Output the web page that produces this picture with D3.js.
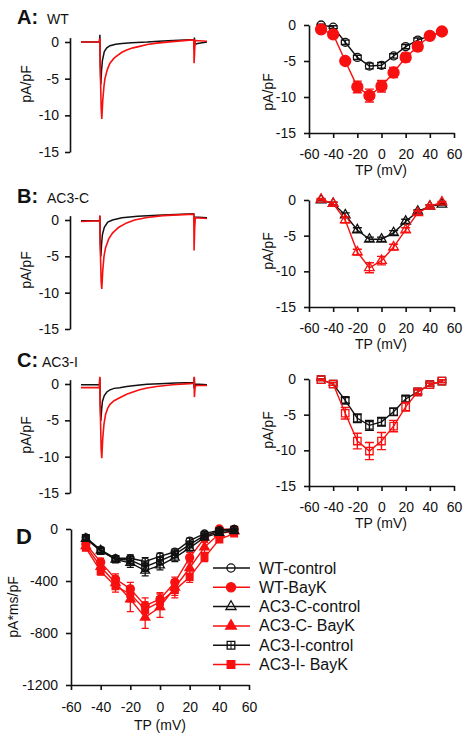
<!DOCTYPE html>
<html><head><meta charset="utf-8">
<script src="https://cdn.jsdelivr.net/npm/d3@7/dist/d3.min.js"></script>
<style>
body{margin:0;background:#fff;}
text{font-family:"Liberation Sans",Arial,sans-serif;fill:#111;}
</style></head><body>
<script>
// ---------------- DATA ----------------
const RED = "#f81010", BLK = "#111";
const voltages = [-50,-40,-30,-20,-10,0,10,20,30,40,50];
const yTicksIV = [0,-5,-10,-15];
const xTicksIV = [-60,-40,-20,0,20,40,60];
const yTicksD = [0,-400,-800,-1200];
const groups = ["WT","AC3-C","AC3-I"];
const panelLetters = ["A:","B:","C:"];

// current traces: [time ms (pulse 0..300), pA/pF]
const traceA_ctrl = [[-60,0],[-1,0],[0,1.0],[1,-3],[3,-5.8],[5,-4],[8,-2.5],[14,-1.3],[22,-0.8],[32,-0.5],[50,-0.3],[70,-0.2],[100,-0.1],[150,0],[200,0.15],[284,0.3],[298,0.3],[299,-1.0],[300,0.6],[302,-0.3],[310,-0.2],[340,0]];
const traceA_bayk = [[-60,0],[-2,0],[-1,0.4],[0,0.5],[1,-3],[4,-9],[6,-10.5],[9,-8],[13,-6],[16,-5],[24,-3.7],[32,-2.9],[45,-2.2],[54,-1.9],[70,-1.4],[85,-1.1],[105,-0.8],[126,-0.6],[150,-0.35],[180,-0.15],[230,0.05],[284,0.25],[298,0.3],[299,-2.9],[301,-1],[303,0.2],[340,0.1]];
const traceB_ctrl = [[-60,-0.1],[-1,-0.1],[0,0.6],[1,-3],[3,-5],[5,-3.5],[8,-2],[14,-1],[25,-0.3],[40,0],[70,0.3],[120,0.5],[200,0.7],[298,0.85],[299,-0.3],[301,0.4],[340,0.3]];
const traceB_bayk = [[-60,-0.2],[-1,-0.1],[0,0.6],[1,-3.5],[4,-8.5],[6,-9.5],[9,-7],[13,-5],[18,-3.8],[28,-2.6],[40,-1.8],[60,-1],[85,-0.4],[110,0],[150,0.35],[200,0.6],[298,0.8],[299,-4.2],[301,-1],[303,0.3],[340,0.2]];
const traceC_ctrl = [[-60,-0.1],[-1,-0.1],[0,0.8],[1,-2.5],[3,-5.1],[5,-3.8],[8,-2.4],[14,-1.6],[22,-1.1],[32,-0.8],[45,-0.6],[63,-0.5],[85,-0.35],[105,-0.25],[126,-0.15],[150,-0.05],[190,0.05],[240,0.15],[298,0.2],[299,-0.6],[300,0.9],[301,-0.4],[304,0],[340,-0.1]];
const traceC_bayk = [[-60,-0.5],[-2,-0.5],[-1,0.5],[0,1.0],[1,-3],[4,-9],[6,-10.2],[9,-7.5],[13,-5.5],[18,-4.2],[25,-3.3],[32,-2.8],[45,-2.3],[63,-1.9],[85,-1.4],[105,-1.1],[126,-0.8],[150,-0.55],[180,-0.35],[230,-0.1],[284,0.05],[298,0.1],[299,1.0],[300,-1.8],[302,-0.5],[305,-0.2],[340,-0.2]];

// I-V (pA/pF)
const ivA_ctrl = [0,-0.3,-2.4,-4.5,-5.7,-5.6,-4.3,-3.0,-2.1,-1.5,-1.0];
const ivA_ctrl_err = [0.1,0.2,0.3,0.3,0.4,0.4,0.3,0.3,0.3,0.2,0.1];
const ivA_bayk = [-0.6,-1.3,-5.0,-8.6,-9.8,-8.5,-6.6,-4.5,-3.0,-1.5,-0.9];
const ivA_bayk_err = [0.2,0.3,0.4,0.8,0.9,0.8,0.7,0.6,0.6,0.3,0.2];
const ivB_ctrl = [0,-0.5,-2.1,-4.2,-5.5,-5.5,-4.6,-3.0,-1.6,-0.9,-0.6];
const ivB_ctrl_err = [0.1,0.2,0.3,0.3,0.3,0.3,0.3,0.3,0.2,0.2,0.1];
const ivB_bayk = [0.1,-0.5,-2.8,-7.3,-9.5,-8.5,-6.6,-4.2,-1.8,-0.9,-0.3];
const ivB_bayk_err = [0.1,0.2,0.4,0.4,0.7,0.6,0.4,0.3,0.3,0.2,0.1];
const ivC_ctrl = [-0.1,-0.7,-3.0,-5.5,-6.5,-6.0,-4.6,-2.8,-1.8,-0.8,-0.3];
const ivC_ctrl_err = [0.1,0.2,0.4,0.6,0.7,0.6,0.5,0.4,0.3,0.2,0.2];
const ivC_bayk = [-0.1,-0.7,-4.8,-8.7,-10.1,-8.7,-6.6,-3.9,-1.8,-0.8,-0.3];
const ivC_bayk_err = [0.1,0.2,0.8,1.1,1.2,1.2,0.8,0.6,0.3,0.2,0.2];

// D: charge (pA*ms/pF)
const dLabels = ["WT-control","WT-BayK","AC3-C-control","AC3-C- BayK","AC3-I-control","AC3-I- BayK"];
const qWT_ctrl = [-65,-160,-225,-225,-250,-210,-175,-90,-35,-10,0];
const qWT_ctrl_err = [15,20,20,25,30,25,20,20,15,10,5];
const qWT_bayk = [-115,-255,-385,-460,-590,-540,-410,-220,-70,0,-3];
const qWT_bayk_err = [20,30,40,50,60,50,40,40,30,10,5];
const qC_ctrl = [-75,-165,-235,-260,-320,-280,-220,-145,-65,-30,-15];
const qC_ctrl_err = [15,20,25,35,40,35,30,25,15,10,5];
const qC_bayk = [-130,-290,-415,-540,-680,-600,-450,-300,-140,-35,-15];
const qC_bayk_err = [20,35,50,95,85,80,60,50,40,15,10];
const qI_ctrl = [-70,-170,-230,-240,-290,-245,-195,-120,-50,-20,-5];
const qI_ctrl_err = [15,20,20,30,35,30,25,20,15,10,5];
const qI_bayk = [-145,-325,-440,-500,-620,-560,-470,-370,-220,-80,-35];
const qI_bayk_err = [20,30,45,60,60,60,60,40,30,20,10];

// ---------------- DRAW ----------------
const svg = d3.select("body").append("svg").attr("width",476).attr("height",739);
const fmt = d => String(d);

function styleAxis(g){
  g.selectAll("path.domain").attr("stroke",BLK).attr("stroke-width",1.6);
  g.selectAll(".tick line").attr("stroke",BLK).attr("stroke-width",1.6);
  g.selectAll(".tick text").attr("font-size",14).attr("fill","#111").style("font-family","Liberation Sans, Arial, sans-serif");
}

function symbolPath(type, size){
  const t = type==="circle"?d3.symbolCircle:type==="triangle"?d3.symbolTriangle:d3.symbolSquare;
  return d3.symbol().type(t).size(size)();
}
function drawMarker(g, x, y, spec){
  g.append("path").attr("d", symbolPath(spec.shape, spec.size))
    .attr("transform", `translate(${x},${y})`)
    .attr("stroke", spec.color).attr("stroke-width",1.3)
    .attr("fill", spec.filled ? spec.color : "none");
  if (spec.cross){
    const h = Math.sqrt(spec.size)/2;
    g.append("path").attr("d",`M${x-h},${y}H${x+h}M${x},${y-h}V${y+h}`).attr("stroke",spec.color).attr("stroke-width",1);
  }
}

// --- trace panels (left)
const traceLayout = [{zero:42,bottom:152},{zero:220,bottom:329},{zero:384,bottom:493}];
const traces = [[traceA_ctrl,traceA_bayk],[traceB_ctrl,traceB_bayk],[traceC_ctrl,traceC_bayk]];
const titleY = [24,203,367];
const nameX = [47,47,42];
const labelYc = [84,270,435];
const tx = d3.scaleLinear().domain([-60,340]).range([81,207]);
traceLayout.forEach((L,i)=>{
  const ppu = (L.bottom-L.zero)/15;
  const y = d3.scaleLinear().domain([-15,0.6]).range([L.bottom, L.zero-0.6*ppu]);
  const g = svg.append("g");
  const ax = g.append("g").attr("transform","translate(70,0)")
    .call(d3.axisLeft(y).tickValues(yTicksIV).tickFormat(fmt).tickSize(5).tickPadding(6).tickSizeOuter(0));
  styleAxis(ax);
  const line = d3.line().x(d=>tx(d[0])).y(d=>y(d[1]));
  g.append("path").datum(traces[i][0]).attr("d",line).attr("fill","none").attr("stroke",BLK).attr("stroke-width",1.5);
  g.append("path").datum(traces[i][1]).attr("d",line).attr("fill","none").attr("stroke",RED).attr("stroke-width",1.6);
  svg.append("text").attr("x",17).attr("y",titleY[i]).attr("font-size",20).attr("font-weight","bold").text(panelLetters[i]);
  svg.append("text").attr("x",nameX[i]).attr("y",titleY[i]).attr("font-size",14).text(groups[i]);
  svg.append("text").attr("transform",`translate(31,${labelYc[i]}) rotate(-90)`).attr("text-anchor","middle").attr("font-size",14).text("pA/pF");
});

// --- IV panels (right)
const ivLayout = [{zero:25,bottom:133,lab:92},{zero:200,bottom:307,lab:251},{zero:379,bottom:486,lab:430}];
const ivData = [
  [[ivA_ctrl,ivA_ctrl_err,{shape:"circle",size:50,color:BLK,filled:false}],[ivA_bayk,ivA_bayk_err,{shape:"circle",size:95,color:RED,filled:true}]],
  [[ivB_ctrl,ivB_ctrl_err,{shape:"triangle",size:40,color:BLK,filled:false}],[ivB_bayk,ivB_bayk_err,{shape:"triangle",size:40,color:RED,filled:false}]],
  [[ivC_ctrl,ivC_ctrl_err,{shape:"square",size:55,color:BLK,filled:false}],[ivC_bayk,ivC_bayk_err,{shape:"square",size:55,color:RED,filled:false}]]
];
const xv = d3.scaleLinear().domain([-60,60]).range([309,454]);
ivLayout.forEach((L,i)=>{
  const y = d3.scaleLinear().domain([-15,0]).range([L.bottom,L.zero]);
  const g = svg.append("g");
  const ay = g.append("g").attr("transform","translate(309,0)")
    .call(d3.axisLeft(y).tickValues(yTicksIV).tickFormat(fmt).tickSize(5).tickPadding(8).tickSizeOuter(0));
  styleAxis(ay);
  const axx = g.append("g").attr("transform",`translate(0,${L.bottom})`)
    .call(d3.axisBottom(xv).tickValues(xTicksIV).tickFormat(fmt).tickSize(5).tickPadding(11).tickSizeOuter(0));
  styleAxis(axx);
  g.append("text").attr("x",381).attr("y",L.bottom+42).attr("text-anchor","middle").attr("font-size",14).text("TP (mV)");
  g.append("text").attr("transform",`translate(273,${L.lab}) rotate(-90)`).attr("text-anchor","middle").attr("font-size",14).text("pA/pF");
  ivData[i].forEach(([vals,errs,spec])=>{
    const pts = voltages.map((v,k)=>[v,vals[k],errs[k]]);
    g.append("path").datum(pts).attr("d",d3.line().x(d=>xv(d[0])).y(d=>y(d[1])))
      .attr("fill","none").attr("stroke",spec.color).attr("stroke-width",1.4);
    pts.forEach(p=>{
      const x = xv(p[0]);
      drawMarker(g, x, y(p[1]), spec);
      const y1 = y(p[1]-p[2]), y2 = y(p[1]+p[2]);
      g.append("path").attr("d",`M${x},${y1}V${y2}M${x-4.5},${y1}H${x+4.5}M${x-4.5},${y2}H${x+4.5}`)
        .attr("stroke",spec.color).attr("stroke-width",1.4).attr("fill","none");
    });
  });
});

// --- D panel
const xd = d3.scaleLinear().domain([-60,60]).range([71,249]);
const yd = d3.scaleLinear().domain([-1200,0]).range([685,529]);
const gd = svg.append("g");
const ayd = gd.append("g").attr("transform","translate(71,0)")
  .call(d3.axisLeft(yd).tickValues(yTicksD).tickFormat(fmt).tickSize(5).tickPadding(8).tickSizeOuter(0));
styleAxis(ayd);
const axd = gd.append("g").attr("transform","translate(0,685)")
  .call(d3.axisBottom(xd).tickValues(xTicksIV).tickFormat(fmt).tickSize(5).tickPadding(12).tickSizeOuter(0));
styleAxis(axd);
gd.append("text").attr("x",160).attr("y",730).attr("text-anchor","middle").attr("font-size",14).text("TP (mV)");
gd.append("text").attr("transform","translate(18,607) rotate(-90)").attr("text-anchor","middle").attr("font-size",14).text("pA*ms/pF");
svg.append("text").attr("x",16).attr("y",544).attr("font-size",22).attr("font-weight","bold").text("D");

const dSpecs = [
  {shape:"circle",size:40,color:BLK,filled:false},
  {shape:"circle",size:50,color:RED,filled:true},
  {shape:"triangle",size:34,color:BLK,filled:false},
  {shape:"triangle",size:38,color:RED,filled:true},
  {shape:"square",size:45,color:BLK,filled:false,cross:true},
  {shape:"square",size:45,color:RED,filled:true}
];
const dSeries = [[qWT_ctrl,qWT_ctrl_err],[qWT_bayk,qWT_bayk_err],[qC_ctrl,qC_ctrl_err],[qC_bayk,qC_bayk_err],[qI_ctrl,qI_ctrl_err],[qI_bayk,qI_bayk_err]];
const drawOrder = [1,3,5,0,2,4];
drawOrder.forEach(i=>{
  const [vals,errs] = dSeries[i], spec = dSpecs[i];
  const pts = voltages.map((v,k)=>[v,vals[k],errs[k]]);
  gd.append("path").datum(pts).attr("d",d3.line().x(d=>xd(d[0])).y(d=>yd(d[1])))
    .attr("fill","none").attr("stroke",spec.color).attr("stroke-width",1.4);
  pts.forEach(p=>{
    const x = xd(p[0]);
    const y1 = yd(p[1]-p[2]), y2 = yd(p[1]+p[2]);
    gd.append("path").attr("d",`M${x},${y1}V${y2}M${x-3.5},${y1}H${x+3.5}M${x-3.5},${y2}H${x+3.5}`)
      .attr("stroke",spec.color).attr("stroke-width",1.3).attr("fill","none");
    drawMarker(gd, x, yd(p[1]), spec);
  });
});

// legend
const lg = svg.append("g");
dLabels.forEach((lab,i)=>{
  const yy = 568 + i*19.3;
  const spec = dSpecs[i];
  lg.append("line").attr("x1",213).attr("x2",250).attr("y1",yy).attr("y2",yy).attr("stroke",spec.color).attr("stroke-width",1.5);
  drawMarker(lg, 231, yy, Object.assign({},spec,{size:spec.size*1.3}));
  lg.append("text").attr("x",259).attr("y",yy+5.5).attr("font-size",16).text(lab);
});
</script>
</body></html>
